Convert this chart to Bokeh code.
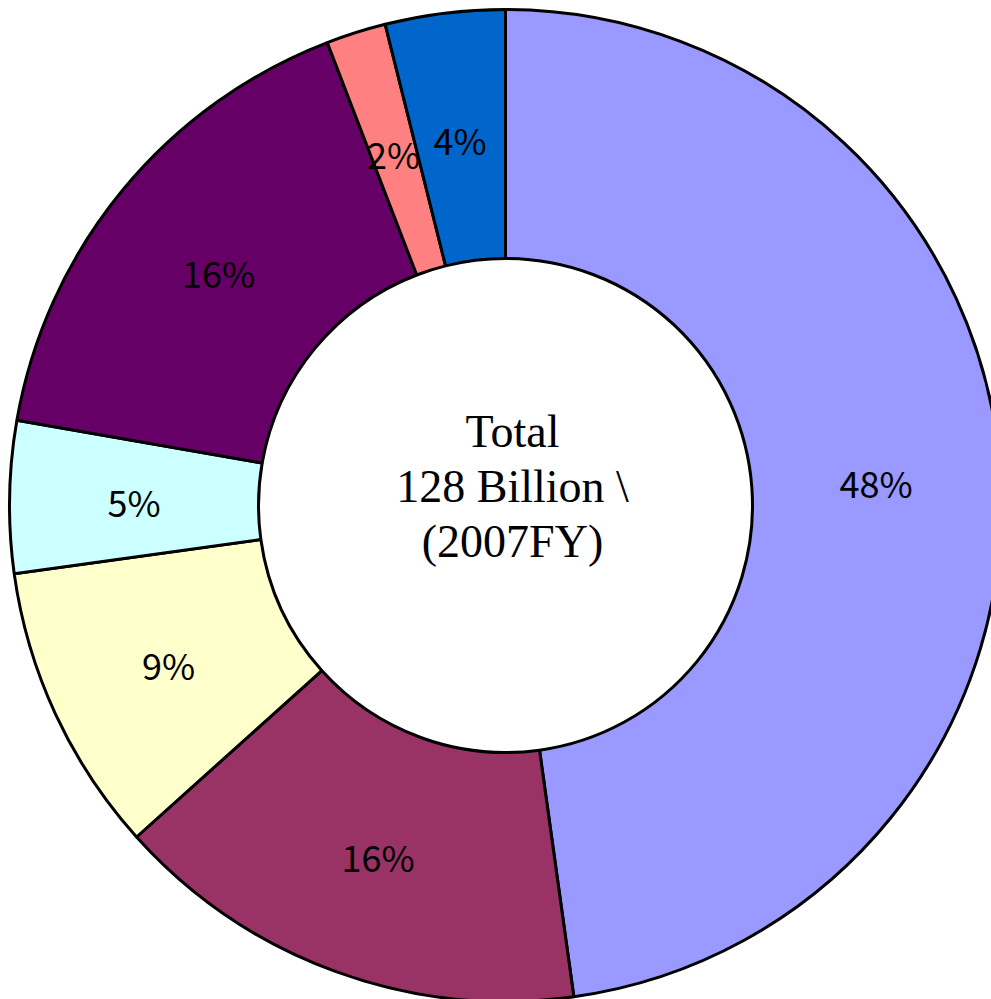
import math
from bokeh.plotting import figure
from bokeh.models import Range1d, ColumnDataSource
from bokeh.core.properties import value
from bokeh.embed import file_html
from bokeh.resources import INLINE

# Data (clockwise from 12 o'clock), shares
shares = [47.8, 15.55, 9.45, 4.95, 16.4, 1.95, 3.9]
labels = ["48%", "16%", "9%", "5%", "16%", "2%", "4%"]
colors = ["#9999FF", "#993366", "#FFFFCC", "#CCFFFF", "#660066", "#FF8080", "#0066CC"]
center_lines = ["Total", "128 Billion \\", "(2007FY)"]

R_OUT = 496
R_IN = 247

total = sum(shares)
starts, ends, lx, ly = [], [], [], []
cum = 0.0
for s in shares:
    a0 = math.pi / 2 - 2 * math.pi * cum / total
    a1 = math.pi / 2 - 2 * math.pi * (cum + s) / total
    mid = (a0 + a1) / 2
    starts.append(a0)
    ends.append(a1)
    r_mid = (R_IN + R_OUT) / 2
    lx.append(r_mid * math.cos(mid))
    ly.append(r_mid * math.sin(mid))
    cum += s

src = ColumnDataSource(dict(start=starts, end=ends, color=colors, label=labels, lx=lx, ly=ly))

W, H = 991, 999
p = figure(width=W, height=H, output_backend="svg", toolbar_location=None,
           x_range=Range1d(-505, W - 505), y_range=Range1d(505 - H, 505),
           min_border=0)
p.axis.visible = False
p.grid.visible = False
p.outline_line_color = None
p.background_fill_color = "white"
p.border_fill_color = "white"

p.annular_wedge(x=0, y=0, inner_radius=R_IN, outer_radius=R_OUT,
                start_angle="start", end_angle="end", direction="clock",
                fill_color="color", line_color="black", line_width=3, source=src)

p.text(x="lx", y="ly", text="label", source=src, text_align="center",
       text_baseline="middle", text_font=value("Noto Sans CJK JP"),
       text_font_size="36px", text_color="black", y_offset=2)

centers = [505 - 431, 505 - 486, 505 - 541]
p.text(x=[7, 7, 7], y=centers, text=center_lines, text_align="center",
       text_baseline="middle", text_font=value("Liberation Serif"),
       text_font_size="46px", text_color="black")

open("out.html", "w").write(file_html(p, INLINE))
